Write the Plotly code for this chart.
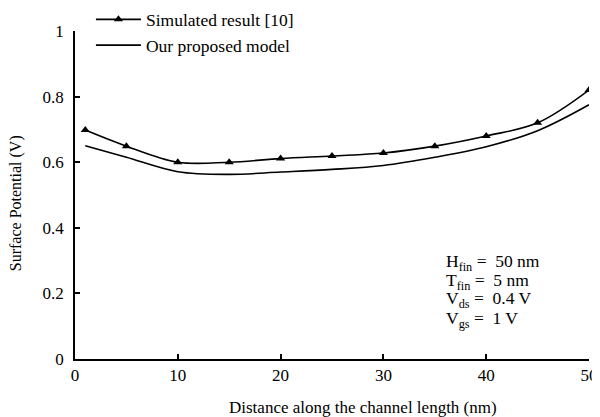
import plotly.graph_objects as go

x_sim = [1, 5, 10, 15, 20, 25, 30, 35, 40, 45, 50]
y_sim = [0.698, 0.649, 0.600, 0.600, 0.611, 0.619, 0.628, 0.649, 0.680, 0.720, 0.820]

x_model = [1, 5, 10, 15, 20, 25, 30, 35, 40, 45, 50]
y_model = [0.650, 0.615, 0.571, 0.563, 0.570, 0.578, 0.590, 0.615, 0.647, 0.696, 0.775]

x_ticks = [0, 10, 20, 30, 40, 50]
y_ticks = [0, 0.2, 0.4, 0.6, 0.8, 1]
y_tick_text = ["0", "0.2", "0.4", "0.6", "0.8", "1"]

params = [
    ("H<sub>fin</sub> =  50 nm", 0.293),
    ("T<sub>fin</sub> =  5 nm", 0.235),
    ("V<sub>ds</sub> =  0.4 V", 0.180),
    ("V<sub>gs</sub> =  1 V", 0.119),
]

FONT = "Liberation Serif"

fig = go.Figure()
fig.add_trace(go.Scatter(
    x=x_sim, y=y_sim, mode="lines+markers", name="Simulated result [10]",
    line=dict(color="black", width=1.6, shape="spline"),
    marker=dict(symbol="triangle-up", size=8, color="black"),
))
fig.add_trace(go.Scatter(
    x=x_model, y=y_model, mode="lines", name="Our proposed model",
    line=dict(color="black", width=1.6, shape="spline"),
))

for txt, yv in params:
    fig.add_annotation(x=35.9, y=yv, xref="x", yref="y", text=txt, showarrow=False,
                       xanchor="left", yanchor="middle",
                       font=dict(family=FONT, size=17.5, color="black"))

fig.add_annotation(x=0.56, y=-0.149, xref="paper", yref="paper",
                   text="Distance along the channel length (nm)", showarrow=False,
                   xanchor="center", yanchor="middle",
                   font=dict(family=FONT, size=17, color="black"))

fig.add_annotation(x=(16 - 75) / 514, y=0.475, xref="paper", yref="paper",
                   xanchor="center", yanchor="middle", text="Surface Potential (V)",
                   showarrow=False, textangle=-90,
                   font=dict(family=FONT, size=16, color="black"))

# page body has an 8px margin, so the figure is sized to fit the 600x417 window
fig.update_layout(
    width=592, height=409,
    margin=dict(l=67, r=11, t=23, b=58, autoexpand=False),
    paper_bgcolor="white", plot_bgcolor="white",
    font=dict(family=FONT, size=17, color="black"),
    showlegend=True,
    legend=dict(x=0.031, y=1.09, xanchor="left", yanchor="top",
                bgcolor="rgba(0,0,0,0)", font=dict(family=FONT, size=17.5),
                itemwidth=45, tracegroupgap=0),
    xaxis=dict(range=[0, 50], tickvals=x_ticks, showgrid=False, zeroline=False,
               showline=True, linecolor="black", linewidth=1.5, automargin=False,
               ticks="inside", ticklen=5, tickwidth=1.5, tickcolor="black"),
    yaxis=dict(range=[0, 1], tickvals=y_ticks, ticktext=y_tick_text, showgrid=False,
               zeroline=False, showline=True, linecolor="black", linewidth=1.5,
               automargin=False, ticklabelstandoff=6,
               ticks="inside", ticklen=5, tickwidth=1.5, tickcolor="black"),
)

fig.write_html("out.html")
